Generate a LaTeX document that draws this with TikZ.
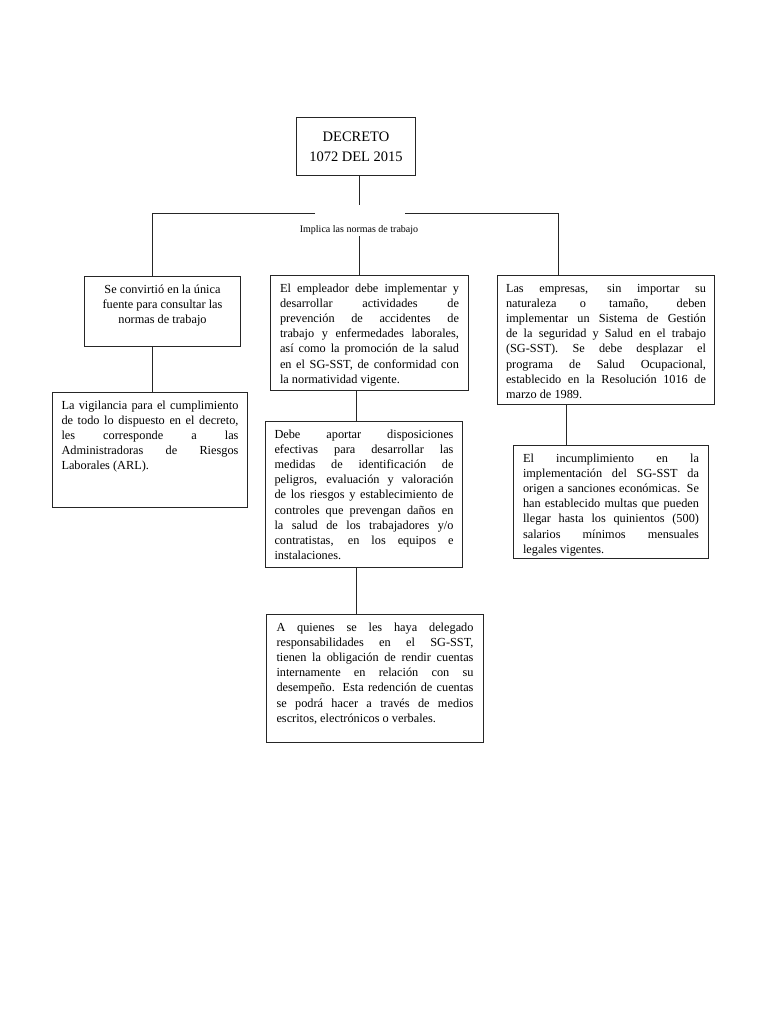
\documentclass[tikz,border=0pt]{standalone}
\usepackage{fontspec}
\setmainfont{Liberation Serif}
\newcommand\jline[1]{\makebox[\linewidth][s]{#1}\\}
\newcommand\bodyfont{\fontsize{12.3}{15.2}\selectfont}
\newcommand\tbody[3]{\parbox[c][#1][t]{#2}{\bodyfont\vspace*{6pt}#3\par}}
\begin{document}
\begin{tikzpicture}[x=1pt,y=-1pt,
  box/.style={draw=black!85, line width=1pt, inner ysep=0pt, anchor=north west},
  conn/.style={draw=black!85, line width=1pt},
  lblstyle/.style={font=\fontsize{10}{12}\selectfont, inner sep=0pt}]
\useasboundingbox[fill=white] (0,0) rectangle (768,1024);

\node[box, minimum width=119pt, minimum height=58pt, inner sep=0pt, align=center,
  font=\fontsize{14.5}{20}\selectfont] (dec) at (296,117) {DECRETO\\1072 DEL 2015};

\node[lblstyle] (lbl) at (359,230.5) {Implica las normas de trabajo};

\node[box, inner xsep=8pt] (s1) at (84,276) {\tbody{70pt}{140pt}{\centering\strut Se convirtió en la única\\ fuente para consultar las\\ normas de trabajo}};

\node[box, inner xsep=9.5pt] (s2) at (270,275) {\tbody{115pt}{179pt}{\strut
\jline{El empleador debe implementar y}
\jline{desarrollar actividades de}
\jline{prevención de accidentes de}
\jline{trabajo y enfermedades laborales,}
\jline{así como la promoción de la salud}
\jline{en el SG-SST, de conformidad con}
la normatividad vigente.}};

\node[box, inner xsep=8.5pt] (s3) at (497,275) {\tbody{129pt}{200pt}{\strut
\jline{Las empresas, sin importar su}
\jline{naturaleza o tamaño, deben}
\jline{implementar un Sistema de Gestión}
\jline{de la seguridad y Salud en el trabajo}
\jline{(SG-SST). Se debe desplazar el}
\jline{programa de Salud Ocupacional,}
\jline{establecido en la Resolución 1016 de}
marzo de 1989.}};

\node[box, inner xsep=9pt] (v1) at (52,392) {\tbody{115pt}{177pt}{\strut
\jline{La vigilancia para el cumplimiento}
\jline{de todo lo dispuesto en el decreto,}
\jline{les corresponde a las}
\jline{Administradoras de Riesgos}
Laborales (ARL).}};

\node[box, inner xsep=9pt] (d1) at (265,421) {\tbody{146pt}{179pt}{\strut
\jline{Debe aportar disposiciones}
\jline{efectivas para desarrollar las}
\jline{medidas de identificación de}
\jline{peligros, evaluación y valoración}
\jline{de los riesgos y establecimiento de}
\jline{controles que prevengan daños en}
\jline{la salud de los trabajadores y/o}
\jline{contratistas, en los equipos e}
instalaciones.}};

\node[box, inner xsep=10pt] (a1) at (266,614) {\tbody{128pt}{197pt}{\strut
\jline{A quienes se les haya delegado}
\jline{responsabilidades en el SG-SST,}
\jline{tienen la obligación de rendir cuentas}
\jline{internamente en relación con su}
\jline{desempeño. Esta redención de cuentas}
\jline{se podrá hacer a través de medios}
escritos, electrónicos o verbales.}};

\node[box, inner xsep=9.5pt] (i1) at (513,445) {\tbody{113pt}{176pt}{\strut
\jline{El incumplimiento en la}
\jline{implementación del SG-SST da}
\jline{origen a sanciones económicas. Se}
\jline{han establecido multas que pueden}
\jline{llegar hasta los quinientos (500)}
\jline{salarios mínimos mensuales}
legales vigentes.}};

\coordinate (top) at (359,205);
\coordinate (gl) at (315,214); \coordinate (hl) at (152,214);
\coordinate (gr) at (405,214); \coordinate (hr) at (558,214);
\coordinate (mid) at (359,236);
\coordinate (cm) at (356,0); \coordinate (cr) at (566,0);

\draw[conn] (top |- dec.south) -- (top);
\draw[conn] (gl) -- (hl) -- (hl |- s1.north);
\draw[conn] (gr) -- (hr) -- (hr |- s3.north);
\draw[conn] (mid) -- (mid |- s2.north);
\draw[conn] (hl |- s1.south) -- (hl |- v1.north);
\draw[conn] (cm |- s2.south) -- (cm |- d1.north);
\draw[conn] (cm |- d1.south) -- (cm |- a1.north);
\draw[conn] (cr |- s3.south) -- (cr |- i1.north);
\end{tikzpicture}
\end{document}
